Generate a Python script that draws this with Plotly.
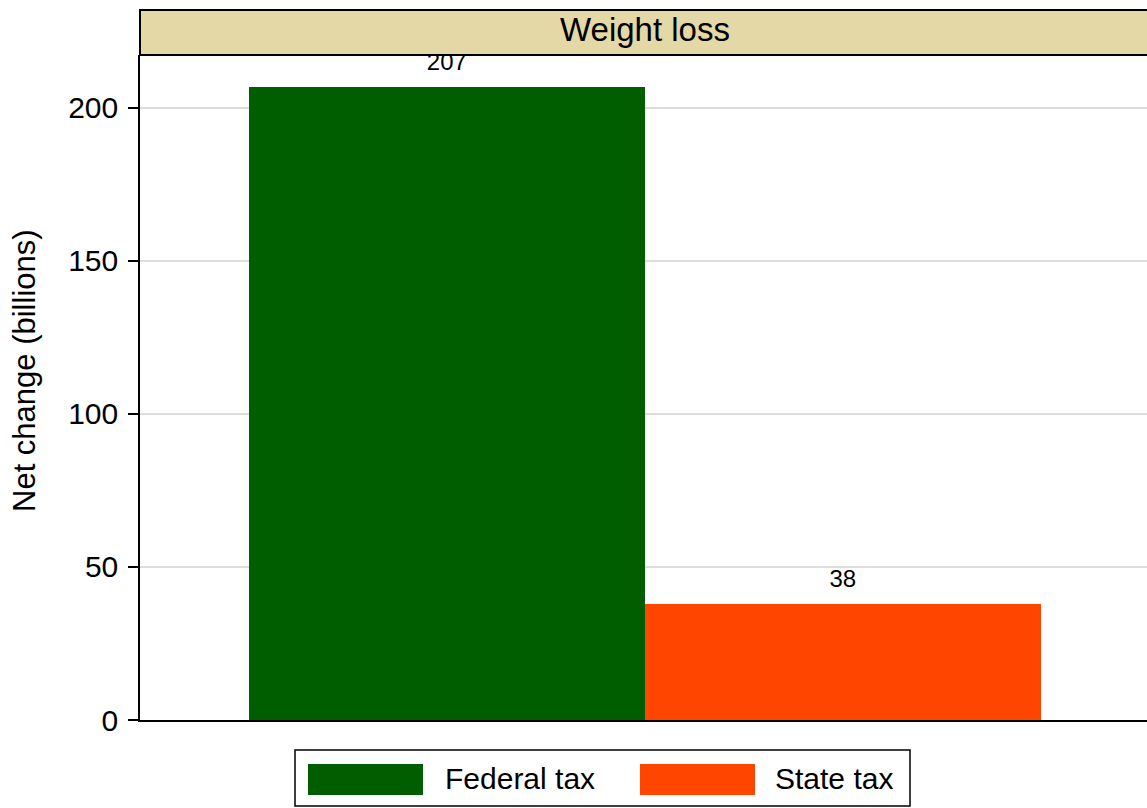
import plotly.graph_objects as go

categories = ["Federal tax", "State tax"]
values = [207, 38]
colors = ["#005E00", "#FF4500"]
panel_title = "Weight loss"
y_title = "Net change (billions)"
y_ticks = [0, 50, 100, 150, 200]

W, H = 1147, 808
L, R, T, B = 140, 0, 55, 88
PW, PH = W - L - R, H - T - B
FONT = "Liberation Sans, Arial, Helvetica, sans-serif"

def px(x):
    return (x - L) / PW

def py(y):
    return (H - B - y) / PH

xs = list(range(len(categories)))

fig = go.Figure()
for i, (c, v, col) in enumerate(zip(categories, values, colors)):
    fig.add_trace(go.Bar(x=[xs[i]], y=[v], width=1, marker=dict(color=col, line=dict(width=0)),
                         name=c, showlegend=False, hoverinfo="skip"))
fig.add_trace(go.Scatter(x=xs, y=values, mode="markers+text", text=[str(v) for v in values],
                         textposition="top center", marker=dict(size=16, opacity=0),
                         textfont=dict(family=FONT, size=24, color="black"),
                         cliponaxis=False, showlegend=False, hoverinfo="skip"))

shapes = []
# title strip
shapes.append(dict(type="rect", xref="paper", yref="paper", x0=0, x1=1.01, y0=1, y1=py(10),
                   fillcolor="#E4D8A6", line=dict(color="black", width=2), layer="above"))
# legend box
shapes.append(dict(type="rect", xref="paper", yref="paper", x0=px(295), x1=px(910), y0=py(750), y1=py(806),
                   fillcolor="white", line=dict(color="black", width=1.5)))
sym_x = [308, 640]
txt_x = [443, 773]
annotations = [
    dict(text=panel_title, xref="paper", yref="paper", x=px(645), y=py(29), xanchor="center",
         yanchor="middle", showarrow=False, font=dict(family=FONT, size=33, color="black")),
    dict(text=y_title, xref="paper", yref="paper", x=px(24), y=py(371), xanchor="center",
         yanchor="middle", textangle=-90, showarrow=False, font=dict(family=FONT, size=31, color="black")),
]
for i, c in enumerate(categories):
    shapes.append(dict(type="rect", xref="paper", yref="paper", x0=px(sym_x[i]), x1=px(sym_x[i] + 115),
                       y0=py(764), y1=py(795), fillcolor=colors[i], line=dict(width=0)))
    annotations.append(dict(text=c, xref="paper", yref="paper", x=px(txt_x[i]), y=py(779), xanchor="left",
                            yanchor="middle", showarrow=False,
                            font=dict(family=FONT, size=30, color="black")))

fig.update_layout(
    width=W, height=H, margin=dict(l=L, r=R, t=T, b=B),
    paper_bgcolor="white", plot_bgcolor="white",
    shapes=shapes, annotations=annotations, showlegend=False,
    bargap=0,
    xaxis=dict(range=[-0.775, 1.768], showticklabels=False, ticks="", showgrid=False, zeroline=False,
               showline=True, linecolor="black", linewidth=1.5),
    yaxis=dict(range=[0, 217.3], tickvals=y_ticks, ticks="outside", ticklen=10, tickwidth=1.5,
               tickcolor="black", showline=True, linecolor="black", linewidth=1.5,
               showgrid=True, gridcolor="#DDDDDD", gridwidth=2, zeroline=False,
               ticklabelstandoff=4,
               tickfont=dict(family=FONT, size=30, color="black")),
)

fig.write_html("out.html", config={"displayModeBar": False},
               post_script="document.body.style.margin='0';document.body.style.padding='0';")
